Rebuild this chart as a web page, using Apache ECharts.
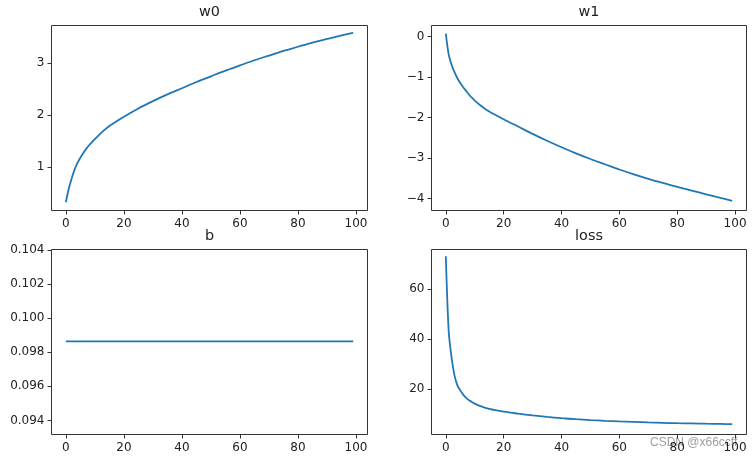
<!DOCTYPE html>
<html><head><meta charset="utf-8">
<script src="https://cdn.jsdelivr.net/npm/echarts@6/dist/echarts.min.js"></script>
<style>html,body{margin:0;padding:0;background:#fff}#c{width:755px;height:459px}</style>
</head><body><div id="c"></div>
<script>
const epochs = [0,1,2,3,4,5,6,7,8,9,10,12,15,20,25,30,35,40,45,50,55,60,65,70,75,80,85,90,95,99];
const w0Values = [0.32,0.58,0.78,0.95,1.08,1.18,1.27,1.35,1.42,1.48,1.54,1.65,1.79,1.97,2.13,2.27,2.40,2.52,2.64,2.75,2.86,2.96,3.06,3.15,3.24,3.32,3.40,3.47,3.54,3.59];
const w1Values = [0.07,-0.45,-0.70,-0.88,-1.03,-1.15,-1.25,-1.34,-1.43,-1.51,-1.58,-1.70,-1.85,-2.04,-2.22,-2.40,-2.57,-2.73,-2.88,-3.02,-3.15,-3.28,-3.40,-3.51,-3.61,-3.71,-3.80,-3.89,-3.98,-4.05];
const bValues = [0.09864,0.09864,0.09864,0.09864,0.09864,0.09864,0.09864,0.09864,0.09864,0.09864,0.09864,0.09864,0.09864,0.09864,0.09864,0.09864,0.09864,0.09864,0.09864,0.09864,0.09864,0.09864,0.09864,0.09864,0.09864,0.09864,0.09864,0.09864,0.09864,0.09864];
const lossValues = [73.0,43.0,32.5,25.5,21.5,19.5,17.8,16.5,15.6,14.9,14.2,13.2,12.1,11.0,10.2,9.5,8.9,8.4,8.0,7.65,7.35,7.1,6.9,6.7,6.55,6.4,6.3,6.2,6.1,6.0];

const titles = ['w0','w1','b','loss'];
const xTicks = [0,20,40,60,80,100];
const w0Ticks = [1,2,3];
const w1Ticks = [0,-1,-2,-3,-4];
const bTicks = [0.094,0.096,0.098,0.100,0.102,0.104];
const lossTicks = [20,40,60];

const seriesValues = [w0Values, w1Values, bValues, lossValues];
const yTickSets = [w0Ticks, w1Ticks, bTicks, lossTicks];
const yRanges = [[0.161,3.73],[-4.29,0.27],[0.09318,0.10402],[1.9,75.7]];
const yFormat = [
  v => String(v),
  v => String(v).replace('-', '\u2212'),
  v => v.toFixed(3),
  v => String(v)
];

const grids = [
  {left:51.5, top:25.5, width:316, height:185},
  {left:431.5, top:25.5, width:315, height:185},
  {left:51.5, top:249.5, width:316, height:185},
  {left:431.5, top:249.5, width:315, height:185}
];
const txt = '#222';
const font = 'DejaVu Sans';

const option = {
  animation: false,
  backgroundColor: '#fff',
  title: grids.map((g, i) => ({
    text: titles[i],
    left: g.left + g.width / 2,
    top: g.top - 20,
    textAlign: 'center',
    padding: 0,
    textStyle: {fontSize: 14.4, fontWeight: 'normal', color: txt, fontFamily: font}
  })),
  grid: grids.map(g => Object.assign({show: true, borderColor: '#333', borderWidth: 1, backgroundColor: '#fff', containLabel: false}, g)),
  xAxis: grids.map((g, i) => ({
    type: 'value', gridIndex: i, min: -4.95, max: 103.95, position: 'bottom',
    axisLine: {show: false, onZero: false},
    splitLine: {show: false},
    axisTick: {show: true, inside: false, customValues: xTicks, length: 4, lineStyle: {color: '#333', width: 1}},
    axisLabel: {show: true, customValues: xTicks, margin: 7, fontSize: 12, color: txt, fontFamily: font}
  })),
  yAxis: grids.map((g, i) => ({
    type: 'value', gridIndex: i, min: yRanges[i][0], max: yRanges[i][1], position: 'left',
    axisLine: {show: false, onZero: false},
    splitLine: {show: false},
    axisTick: {show: true, inside: false, customValues: yTickSets[i], length: 4, lineStyle: {color: '#333', width: 1}},
    axisLabel: {show: true, customValues: yTickSets[i], margin: 7, fontSize: 12, color: txt, fontFamily: font, formatter: yFormat[i]}
  })),
  series: seriesValues.map((vals, i) => ({
    type: 'line', xAxisIndex: i, yAxisIndex: i,
    data: epochs.map((x, j) => [x, vals[j]]),
    showSymbol: false, symbol: 'none',
    smooth: 0.3,
    lineStyle: {color: '#1f77b4', width: 1.8},
    silent: true
  })),
  graphic: [{
    type: 'text', left: 650, top: 437,
    style: {text: 'CSDN @x66ccff', fontSize: 12, fontFamily: 'Liberation Sans', fill: 'rgba(140,140,140,0.85)'}
  }]
};
const chart = echarts.init(document.getElementById('c'), null, {renderer: 'canvas'});
chart.setOption(option);
</script>
</body></html>
